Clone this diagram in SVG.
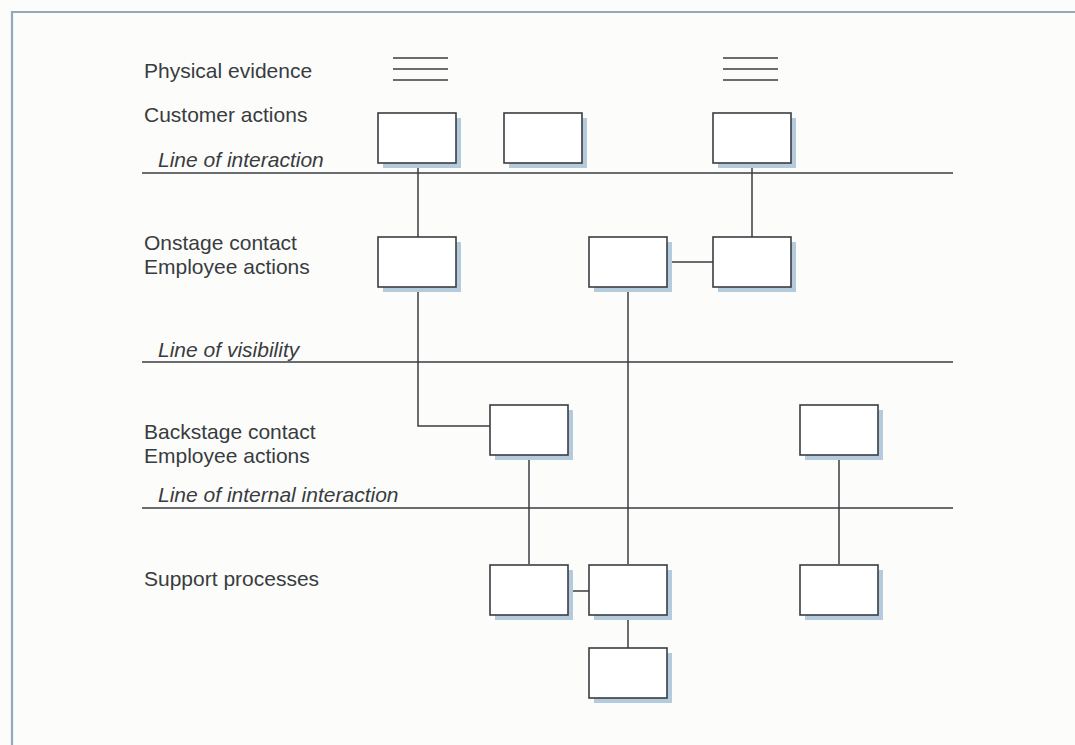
<svg xmlns="http://www.w3.org/2000/svg" width="1075" height="745" viewBox="0 0 1075 745">
  <style>
    .label { font-family: "Liberation Sans", Arial, Helvetica, sans-serif; font-size: 21px; fill: #383c40; }
    .lineLabel { font-style: italic; }
    .box { fill: #ffffff; stroke: #3a3d40; stroke-width: 1.6; }
    .shadow { fill: #b4cbde; }
    .rule { stroke: #3a3d40; stroke-width: 1.6; fill: none; }
    .conn { stroke: #3a3d40; stroke-width: 1.5; fill: none; }
    .evidence { stroke: #3a3d40; stroke-width: 1.4; }
  </style>
  <defs>
    <!-- process box with its offset blue shadow -->
    <g id="blueprintBox">
      <rect class="shadow" x="5" y="5" width="78" height="50"/>
      <rect class="box" x="0" y="0" width="78" height="50"/>
    </g>
    <!-- three-bar physical evidence mark -->
    <g id="evidenceMark">
      <line class="evidence" x1="0" y1="0" x2="55" y2="0"/>
      <line class="evidence" x1="0" y1="11" x2="55" y2="11"/>
      <line class="evidence" x1="0" y1="22" x2="55" y2="22"/>
    </g>
  </defs>

  <!-- page -->
  <rect x="0" y="0" width="1075" height="745" fill="#fcfcfb"/>
  <!-- frame -->
  <path d="M1075 12 H12 V745" fill="none" stroke="#94a9b8" stroke-width="2.2"/>

  <!-- lane labels -->
  <g id="labels">
    <text class="label" x="144" y="78">Physical evidence</text>
    <text class="label" x="144" y="122">Customer actions</text>
    <text class="label lineLabel" x="158" y="167">Line of interaction</text>
    <text class="label" x="144" y="250">Onstage contact</text>
    <text class="label" x="144" y="274">Employee actions</text>
    <text class="label lineLabel" x="158" y="357">Line of visibility</text>
    <text class="label" x="144" y="439">Backstage contact</text>
    <text class="label" x="144" y="463">Employee actions</text>
    <text class="label lineLabel" x="158" y="502">Line of internal interaction</text>
    <text class="label" x="144" y="586">Support processes</text>
  </g>

  <!-- lane separators -->
  <g id="separators">
    <line class="rule" x1="142" y1="173" x2="953" y2="173"/>
    <line class="rule" x1="142" y1="362" x2="953" y2="362"/>
    <line class="rule" x1="142" y1="508" x2="953" y2="508"/>
  </g>

  <!-- physical evidence marks -->
  <g id="evidence-1"><use href="#evidenceMark" x="393" y="58"/></g>
  <g id="evidence-3"><use href="#evidenceMark" x="723" y="58"/></g>

  <!-- connectors -->
  <g id="connectors">
    <path class="conn" d="M418 163 V237"/>
    <path class="conn" d="M752 163 V237"/>
    <path class="conn" d="M667 262 H713"/>
    <path class="conn" d="M418 287 V426 H490"/>
    <path class="conn" d="M628 287 V564"/>
    <path class="conn" d="M529 455 V564"/>
    <path class="conn" d="M839 455 V564"/>
    <path class="conn" d="M568 591 H589"/>
    <path class="conn" d="M628 615 V648"/>
  </g>

  <!-- customer actions -->
  <g id="customer-1"><use href="#blueprintBox" x="378" y="113"/></g>
  <g id="customer-2"><use href="#blueprintBox" x="504" y="113"/></g>
  <g id="customer-3"><use href="#blueprintBox" x="713" y="113"/></g>

  <!-- onstage contact employee actions -->
  <g id="onstage-1"><use href="#blueprintBox" x="378" y="237"/></g>
  <g id="onstage-2"><use href="#blueprintBox" x="589" y="237"/></g>
  <g id="onstage-3"><use href="#blueprintBox" x="713" y="237"/></g>

  <!-- backstage contact employee actions -->
  <g id="backstage-1"><use href="#blueprintBox" x="490" y="405"/></g>
  <g id="backstage-2"><use href="#blueprintBox" x="800" y="405"/></g>

  <!-- support processes -->
  <g id="support-1"><use href="#blueprintBox" x="490" y="565"/></g>
  <g id="support-2"><use href="#blueprintBox" x="589" y="565"/></g>
  <g id="support-3"><use href="#blueprintBox" x="800" y="565"/></g>
  <g id="support-4"><use href="#blueprintBox" x="589" y="648"/></g>
</svg>
